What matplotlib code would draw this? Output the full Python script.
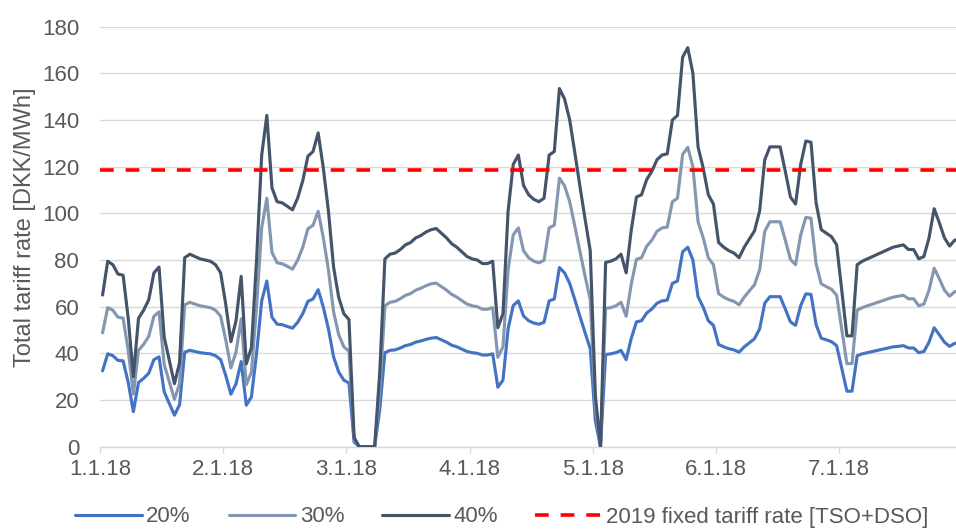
import matplotlib
matplotlib.use("Agg")
import matplotlib.pyplot as plt
import numpy as np

plt.rcParams["font.family"] = ["Liberation Sans", "DejaVu Sans"]

# Hourly tariff rates, 1.1.18 00:00 onward (DKK/MWh)
day_labels = ["1.1.18", "2.1.18", "3.1.18", "4.1.18", "5.1.18", "6.1.18", "7.1.18"]
series_labels = ["20%", "30%", "40%"]
fixed_label = "2019 fixed tariff rate [TSO+DSO]"
fixed_tariff_2019 = 118.5

share_20 = [
    32.5, 39.8, 39, 37, 36.8, 27.5, 15, 27.5, 29.3, 31.5, 37.3, 38.5,
    23.5, 18.5, 13.5, 18, 40.5, 41.3, 40.8, 40.3, 40, 39.8, 39, 37.3,
    30.5, 22.5, 27, 36.5, 17.8, 21.3, 40, 62.5, 71, 55.5, 52.5, 52.3,
    51.5, 50.8, 53.3, 57, 62.3, 63.3, 67.3, 59.8, 50.5, 38.5, 32, 28.5,
    27.3, 2, 0, 0, 0, 0, 16, 40.3, 41.3, 41.5, 42.3, 43.3,
    43.8, 44.8, 45.3, 46, 46.5, 46.8, 45.8, 44.8, 43.5, 42.8, 41.8, 40.8,
    40.3, 40, 39.3, 39.3, 39.8, 25.5, 28.5, 50.5, 60.5, 62.5, 56, 54,
    53, 52.5, 53.3, 62.5, 63.3, 76.8, 74.5, 70, 63, 55.8, 48.8, 42,
    11, 0, 39.5, 39.8, 40.3, 41.3, 37.3, 46.5, 53.5, 54, 57.3, 59,
    61.5, 62.5, 62.8, 70, 71, 83.5, 85.5, 80, 64.3, 59.8, 54, 52,
    43.8, 42.8, 42, 41.5, 40.5, 42.8, 44.5, 46.3, 50.5, 61.5, 64.3, 64.3,
    64.3, 59, 53.5, 52, 60.5, 65.5, 65.3, 52.3, 46.5, 45.8, 45, 43.3,
    33.5, 23.8, 23.8, 39, 39.8, 40.3, 40.8, 41.3, 41.8, 42.3, 42.8, 43,
    43.3, 42.3, 42.3, 40.3, 40.8, 44.8, 51, 48, 44.8, 43, 44.3, 44.5,
]

share_30 = [
    48.8, 59.6, 58.5, 55.5, 55.1, 41.3, 22.5, 41.3, 43.9, 47.3, 55.9, 57.8,
    35.3, 27.8, 20.3, 27, 60.8, 61.9, 61.1, 60.4, 60, 59.6, 58.5, 55.9,
    45.8, 33.8, 40.5, 54.8, 26.6, 31.9, 60, 93.8, 106.5, 83.3, 78.8, 78.4,
    77.3, 76.1, 79.9, 85.5, 93.4, 94.9, 100.9, 89.6, 75.8, 57.8, 48, 42.8,
    40.9, 3, 0, 0, 0, 0, 24, 60.4, 61.9, 62.3, 63.4, 64.9,
    65.6, 67.1, 67.9, 69, 69.8, 70.1, 68.6, 67.1, 65.3, 64.1, 62.6, 61.1,
    60.4, 60, 58.9, 58.9, 59.6, 38.3, 42.8, 75.8, 90.8, 93.8, 84, 81,
    79.5, 78.8, 79.9, 93.8, 94.9, 115.1, 111.8, 105, 94.5, 83.6, 73.1, 63,
    16.5, 0, 59.3, 59.6, 60.4, 61.9, 55.9, 69.8, 80.3, 81, 85.9, 88.5,
    92.3, 93.8, 94.1, 105, 106.5, 125.3, 128.3, 120, 96.4, 89.6, 81, 78,
    65.6, 64.1, 63, 62.3, 60.8, 64.1, 66.8, 69.4, 75.8, 92.3, 96.4, 96.4,
    96.4, 88.5, 80.3, 78, 90.8, 98.3, 97.9, 78.4, 69.8, 68.6, 67.5, 64.9,
    50.3, 35.6, 35.6, 58.5, 59.6, 60.4, 61.1, 61.9, 62.6, 63.4, 64.1, 64.5,
    64.9, 63.4, 63.4, 60.4, 61.1, 67.1, 76.5, 72, 67.1, 64.5, 66.4, 66.8,
]

share_40 = [
    65, 79.5, 78, 74, 73.5, 55, 30, 55, 58.5, 63, 74.5, 77,
    47, 37, 27, 36, 81, 82.5, 81.5, 80.5, 80, 79.5, 78, 74.5,
    61, 45, 54, 73, 35.5, 42.5, 80, 125, 142, 111, 105, 104.5,
    103, 101.5, 106.5, 114, 124.5, 126.5, 134.5, 119.5, 101, 77, 64, 57,
    54.5, 4, 0, 0, 0, 0, 32, 80.5, 82.5, 83, 84.5, 86.5,
    87.5, 89.5, 90.5, 92, 93, 93.5, 91.5, 89.5, 87, 85.5, 83.5, 81.5,
    80.5, 80, 78.5, 78.5, 79.5, 51, 57, 101, 121, 125, 112, 108,
    106, 105, 106.5, 125, 126.5, 153.5, 149, 140, 126, 111.5, 97.5, 84,
    22, 0, 79, 79.5, 80.5, 82.5, 74.5, 93, 107, 108, 114.5, 118,
    123, 125, 125.5, 140, 142, 167, 171, 160, 128.5, 119.5, 108, 104,
    87.5, 85.5, 84, 83, 81, 85.5, 89, 92.5, 101, 123, 128.5, 128.5,
    128.5, 118, 107, 104, 121, 131, 130.5, 104.5, 93, 91.5, 90, 86.5,
    67, 47.5, 47.5, 78, 79.5, 80.5, 81.5, 82.5, 83.5, 84.5, 85.5, 86,
    86.5, 84.5, 84.5, 80.5, 81.5, 89.5, 102, 96, 89.5, 86, 88.5, 89,
]

colors = ["#4472C4", "#8497B0", "#44546A"]
grid_color = "#D9D9D9"
text_color = "#595959"

W, H = 956, 529
fig = plt.figure(figsize=(W / 100, H / 100), dpi=100)
ax = fig.add_axes([100 / W, (H - 446.7) / H, 862.4 / W, 420 / H])

n_hours = len(share_40)
hours = np.arange(n_hours) + 0.5

for vals, col, lab in zip([share_20, share_30, share_40], colors, series_labels):
    ax.plot(hours, vals, color=col, lw=2.25, label=lab,
            solid_joinstyle="round", solid_capstyle="round", zorder=3)

ax.axhline(fixed_tariff_2019, color="#FF0000", lw=2.6, dashes=(3.8, 3.3),
           label=fixed_label, zorder=4)

ax.set_xlim(0, 24 * 7)
ax.set_ylim(0, 180)
ax.set_yticks(np.arange(0, 181, 20))
ax.set_xticks(np.arange(0, 24 * 7, 24))
ax.set_xticklabels(day_labels)

ax.grid(axis="y", color=grid_color, lw=1.0, zorder=0)
ax.set_axisbelow(True)
for side in ["left", "right", "top"]:
    ax.spines[side].set_visible(False)
ax.spines["bottom"].set_color(grid_color)
ax.spines["bottom"].set_linewidth(1.0)

ax.tick_params(axis="y", length=0, pad=15, labelsize=16, labelcolor=text_color)
ax.tick_params(axis="x", length=4, width=1.0, color=grid_color, pad=5,
               labelsize=16, labelcolor=text_color)

fig.text(25 / W, 1 - 227 / H, "Total tariff rate [DKK/MWh]", rotation=90,
         ha="center", va="center", fontsize=17, color=text_color)

handles, labels = ax.get_legend_handles_labels()
fig.legend(handles, labels, ncol=4, loc="center",
           bbox_to_anchor=(502 / W, 1 - 517 / H), frameon=False,
           fontsize=16, labelcolor=text_color, handlelength=3.0,
           handletextpad=0.2, columnspacing=1.7, borderpad=0)

fig.savefig("out.png", dpi=100)
